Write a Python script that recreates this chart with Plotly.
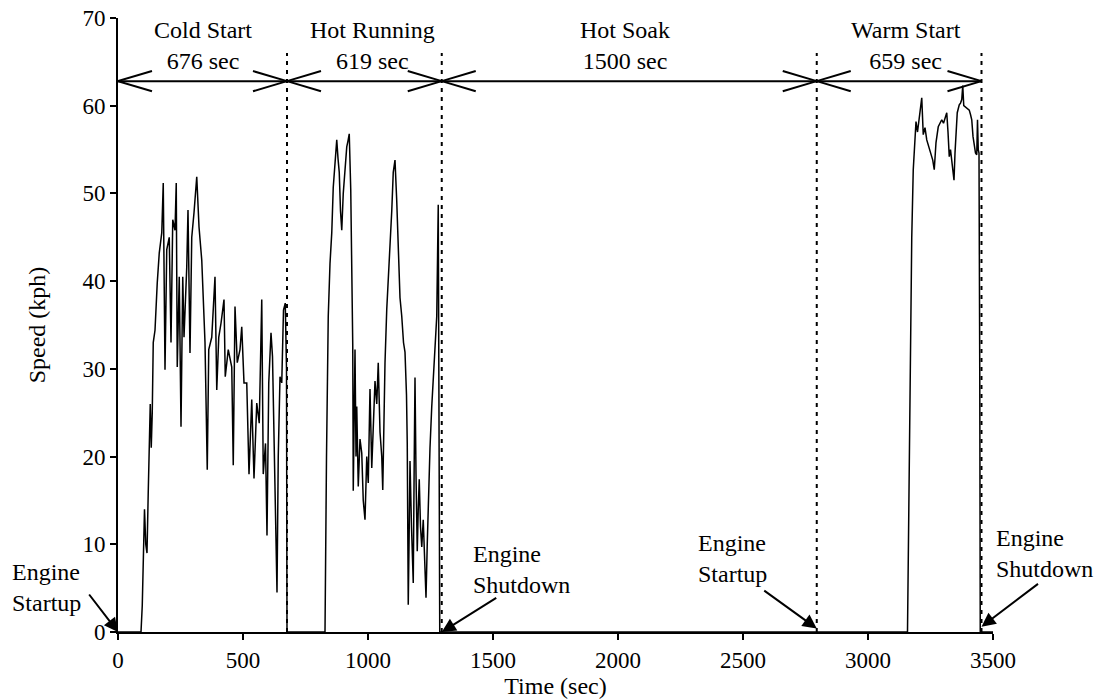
import numpy as np
import plotly.graph_objects as go

# Test phases and their durations (sec)
phase_names = ["Cold Start", "Hot Running", "Hot Soak", "Warm Start"]
phase_durations = [676, 619, 1500, 659]

# Cold start segment: time (sec) and speed (kph)
cold_t = [0, 92, 97, 101, 106, 111, 116, 121, 125, 129, 133, 137, 141, 148, 157, 165,
          175, 181, 188, 195, 205, 212, 219, 228, 233, 237, 245, 252, 259, 264, 275,
          280, 288, 295, 304, 315, 324, 335, 348, 357, 363, 375, 388, 395, 403, 412,
          424, 429, 441, 455, 461, 468, 477, 488, 495, 504, 515, 524, 535, 544, 555,
          565, 575, 581, 590, 596, 603, 612, 618, 624, 630, 636, 641, 648, 655, 662,
          669, 674, 676]
cold_v = [0, 0, 3, 9, 14, 10, 9, 16, 22, 26, 21, 25, 33, 34.4, 39.8, 43.2,
          45.5, 51.2, 29.9, 43.6, 45, 33, 47, 45.8, 51.2, 30.2, 40.5, 23.4, 40.5, 33.6, 41.6,
          48.1, 31.8, 45, 47.8, 51.9, 46.2, 42.4, 33, 18.5, 32.2, 33.6, 40.5, 27.6, 33.6, 35.2,
          37.9, 29.1, 32.2, 30.2, 19, 37.1, 30.7, 32.2, 34.8, 28.4, 28.4, 18, 26.5, 17.5, 26.1,
          23.8, 37.9, 18, 21.5, 11, 28.4, 34.1, 31.4, 21.5, 12, 4.5, 20, 29.1, 28.4, 36.7,
          37.5, 30, 0]

# Hot running segment
hot_t = [676, 828, 834, 841, 848, 855, 861, 868, 875, 880, 885, 890, 895, 901, 908,
         915, 920, 925, 931, 935, 939, 941, 945, 948, 952, 955, 961, 968, 975, 981,
         988, 995, 1001, 1008, 1015, 1021, 1028, 1035, 1041, 1048, 1055, 1059, 1064,
         1068, 1075, 1081, 1088, 1095, 1101, 1108, 1115, 1121, 1128, 1135, 1142, 1148,
         1154, 1157, 1161, 1165, 1168, 1174, 1181, 1185, 1188, 1192, 1197, 1201, 1205,
         1210, 1215, 1221, 1227, 1232, 1237, 1241, 1248, 1255, 1262, 1268, 1275, 1281,
         1284, 1287]
hot_v = [0, 0, 20, 36, 42, 45.5, 50.7, 54, 56.1, 54, 52.4, 48, 45.8, 50, 53,
         55.3, 56, 56.8, 50.4, 42, 32.7, 16.1, 26, 32.2, 20, 25.7, 16.6, 22, 20.4, 15,
         12.8, 20, 17, 27.7, 18.7, 24, 28.6, 26, 30.7, 22.8, 20, 16.2, 25,
         30.7, 36.8, 40, 43, 48, 52.4, 53.8, 49.1, 44, 38.1, 36, 33, 31.9,
         27, 21.5, 3.1, 12, 19.5, 12, 5.6, 20, 29, 18, 9.2, 14, 17.4,
         12, 9.7, 12.8, 8, 3.9, 10, 15.4, 21, 25.7, 29, 31.9, 36, 48.7,
         20, 0]

# Warm start segment
warm_t = [1287, 3158, 3163, 3168, 3175, 3181, 3186, 3192, 3198, 3205, 3210, 3215, 3221,
          3228, 3235, 3242, 3248, 3254, 3259, 3265, 3272, 3281, 3288, 3295, 3302, 3308,
          3315, 3320, 3325, 3330, 3335, 3340, 3344, 3348, 3352, 3357, 3365, 3370, 3375,
          3379, 3383, 3388, 3397, 3405, 3410, 3415, 3420, 3425, 3430, 3435, 3438, 3441,
          3444, 3447, 3449, 3500]
warm_v = [0, 0, 15, 31, 45, 52.7, 55, 58.2, 57, 58.7, 60, 60.9, 56.7,
          57.5, 56.1, 55.5, 55, 54.5, 53.8, 52.7, 55.8, 57.6, 58, 58.4, 58, 58.7,
          59.2, 57, 54.2, 55, 53.8, 52.5, 51.5, 54.6, 57, 59.2, 60.1, 60.3, 60.7,
          62.3, 60, 59.9, 59.7, 59.5, 59, 58.4, 56.5, 55.3, 54.6, 54.4, 58.4, 55,
          54.6, 30, 0, 0]

x_ticks = [0, 500, 1000, 1500, 2000, 2500, 3000, 3500]
y_ticks = [0, 10, 20, 30, 40, 50, 60, 70]

# Engine events: time of event and its label
event_times = [0, 1295, 2795, 3454]
event_texts = ["Engine<br>Startup", "Engine<br>Shutdown", "Engine<br>Startup", "Engine<br>Shutdown"]

FONT = "Liberation Serif, Times New Roman, serif"
INK = "black"
X_MAX, Y_MAX = 3500, 70

time_s = cold_t + hot_t[1:] + warm_t[1:]
speed = cold_v + hot_v[1:] + warm_v[1:]

fig = go.Figure()
fig.add_trace(go.Scatter(x=time_s, y=speed, mode="lines",
                         line=dict(color=INK, width=1.5), showlegend=False,
                         hoverinfo="skip"))

bounds = np.concatenate([[0], np.cumsum(phase_durations)])
arrow_y = 62.8
barb_dx = 136   # arrow barb length along time axis
barb_dy = 1.15  # arrow barb half-spread in kph

shapes = []
# horizontal dimension line across all phases
shapes.append(dict(type="line", xref="x", yref="y", x0=bounds[0], x1=bounds[-1],
                   y0=arrow_y, y1=arrow_y, line=dict(color=INK, width=2)))
for i in range(len(phase_durations)):
    a, b = bounds[i], bounds[i + 1]
    for sgn in (1, -1):
        # open arrowhead pointing left at the phase start
        shapes.append(dict(type="line", xref="x", yref="y", x0=a, y0=arrow_y,
                           x1=a + barb_dx, y1=arrow_y + sgn * barb_dy,
                           line=dict(color=INK, width=2)))
        # open arrowhead pointing right at the phase end
        shapes.append(dict(type="line", xref="x", yref="y", x0=b, y0=arrow_y,
                           x1=b - barb_dx, y1=arrow_y + sgn * barb_dy,
                           line=dict(color=INK, width=2)))
# dotted phase boundaries
for b in bounds[1:]:
    shapes.append(dict(type="line", xref="x", yref="y", x0=b, x1=b, y0=0, y1=66,
                       line=dict(color=INK, width=2, dash="4px,5px")))

annotations = []
label_shift = [0, 8, -4, 7]
for i, name in enumerate(phase_names):
    mid = (bounds[i] + bounds[i + 1]) / 2
    annotations.append(dict(x=mid, y=66.9, xref="x", yref="y", xshift=label_shift[i],
                            text=f"{name}<br>{phase_durations[i]} sec",
                            showarrow=False, xanchor="center", yanchor="middle",
                            font=dict(family=FONT, size=24, color=INK)))

# event label placement (time, kph) and arrow tail offsets in pixels
label_pos = [(-432, 5.1), (1412, 7.1), (2312, 8.4), (3504, 8.95)]
tail_off = [(-30, -39), (56, -35), (-54, -39), (58, -44)]
tip_y = [0, 0, 0.4, 0.6]
for i, (t, txt) in enumerate(zip(event_times, event_texts)):
    lx, ly = label_pos[i]
    annotations.append(dict(x=lx / X_MAX, y=ly / Y_MAX, xref="paper", yref="paper",
                            text=txt, showarrow=False,
                            xanchor="left", yanchor="middle", align="left",
                            font=dict(family=FONT, size=24, color=INK)))
    annotations.append(dict(x=t, y=tip_y[i], xref="x", yref="y", text="",
                            showarrow=True, ax=tail_off[i][0], ay=tail_off[i][1],
                            arrowhead=2, arrowsize=1.4, arrowwidth=2,
                            arrowcolor=INK, standoff=0))

axis_common = dict(showline=True, linecolor=INK, linewidth=2, ticks="outside",
                   ticklen=6, tickwidth=1.5, tickcolor=INK, showgrid=False,
                   zeroline=False, tickfont=dict(family=FONT, size=23, color=INK))

fig.update_layout(
    width=1100, height=700,
    margin=dict(l=118, r=107, t=18, b=68, autoexpand=False),
    paper_bgcolor="white", plot_bgcolor="white",
    xaxis=dict(range=[0, X_MAX], tickvals=x_ticks, automargin=False,
               title=dict(text="Time (sec)", standoff=4,
                          font=dict(family=FONT, size=24, color=INK)),
               **axis_common),
    yaxis=dict(range=[0, Y_MAX], tickvals=y_ticks, automargin=False,
               title=dict(text="Speed (kph)", standoff=30,
                          font=dict(family=FONT, size=24, color=INK)),
               **axis_common),
    shapes=shapes,
    annotations=annotations,
)

fig.write_html("out.html")
